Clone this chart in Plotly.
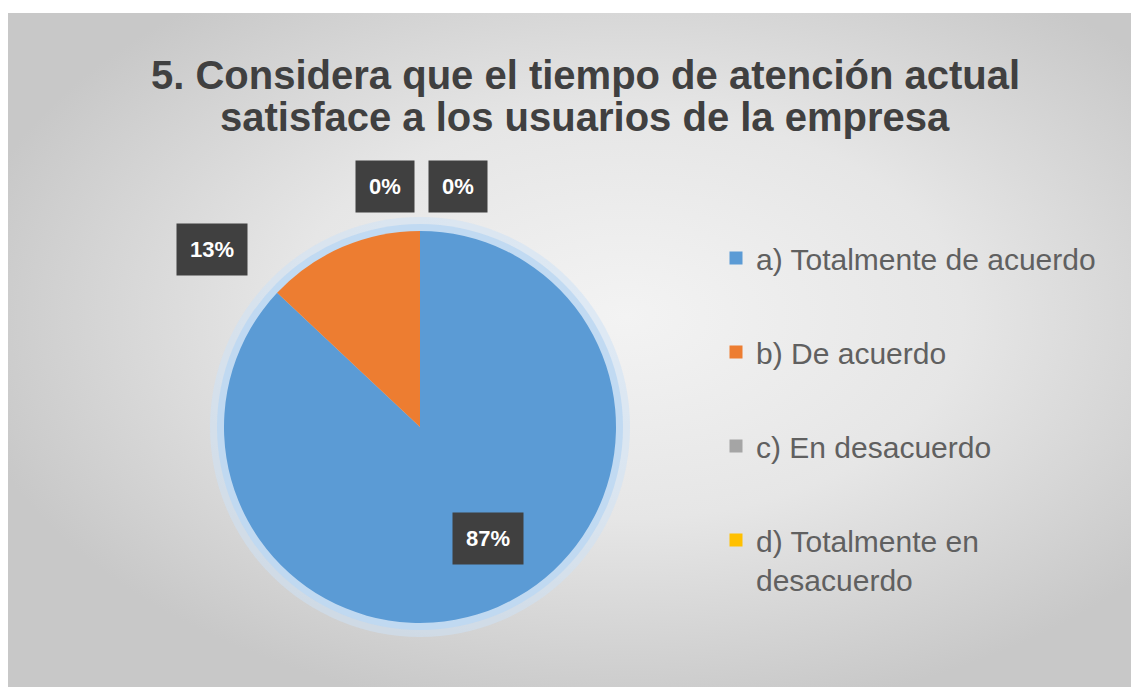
import base64
import math
import plotly.graph_objects as go

# Survey answers and their shares (percent)
categories = [
    "a) Totalmente de acuerdo",
    "b) De acuerdo",
    "c) En desacuerdo",
    "d) Totalmente en<br>desacuerdo",
]
shares = [87, 13, 0, 0]
colors = ["#5B9BD5", "#ED7D31", "#A5A5A5", "#FFC000"]

title_lines = ["5. Considera que el tiempo de atención actual",
               "satisface a los usuarios de la empresa"]

W, H = 1131, 687
CX, CY, R = 420, 427, 196  # pie centre and radius in pixels

# label placement: radial distance (fraction of R) and pixel nudges
label_dist = [0.72, 1.2, 1.2, 1.2]
label_dx = [12, -115, -35, 38]
label_dy = [18, -38, 5, 5]

fig = go.Figure()

fig.add_trace(go.Pie(
    labels=categories,
    values=shares,
    sort=False,
    direction="clockwise",
    rotation=0,
    marker=dict(colors=colors, line=dict(width=0)),
    textinfo="none",
    hoverinfo="label+percent",
    showlegend=False,
    domain=dict(x=[(CX - R) / W, (CX + R) / W],
                y=[(H - CY - R) / H, (H - CY + R) / H]),
))

# legend entries, one group per answer so the gap between rows can be set
for name, col in zip(categories, colors):
    fig.add_trace(go.Scatter(
        x=[None], y=[None], mode="markers", name=name,
        legendgroup=name,
        marker=dict(symbol="square", size=13, color=col),
    ))

# data labels from each slice's mid angle
total = sum(shares)
start = 0.0
annotations = []
for i, v in enumerate(shares):
    frac = v / total
    mid = (start + frac / 2) * 2 * math.pi
    start += frac
    px = CX + label_dist[i] * R * math.sin(mid) + label_dx[i]
    py = CY - label_dist[i] * R * math.cos(mid) - label_dy[i]
    annotations.append(dict(
        x=px / W, y=1 - py / H, xref="paper", yref="paper",
        text=f"<b>{v}%</b>", showarrow=False,
        font=dict(size=22, color="white", family="Liberation Sans"),
        bgcolor="#404040", borderpad=13,
        xanchor="center", yanchor="middle",
    ))

# two-line chart title
for k, line in enumerate(title_lines):
    annotations.append(dict(
        x=585 / W, y=1 - (75 + 42 * k) / H, xref="paper", yref="paper",
        text=f"<b>{line}</b>", showarrow=False,
        font=dict(size=40, color="#404040", family="Liberation Sans"),
        xanchor="center", yanchor="middle",
    ))

# soft gradient backdrop
svg = (
    "<svg xmlns='http://www.w3.org/2000/svg' width='1123' height='674' "
    "preserveAspectRatio='none'>"
    "<defs><radialGradient id='g' cx='0.55' cy='0.45' r='0.6'>"
    "<stop offset='0' stop-color='#f3f3f3'/>"
    "<stop offset='0.5' stop-color='#e6e6e6'/>"
    "<stop offset='1' stop-color='#c8c8c8'/>"
    "</radialGradient></defs>"
    "<rect width='1123' height='674' fill='url(#g)'/></svg>"
)
bg_src = "data:image/svg+xml;base64," + base64.b64encode(svg.encode()).decode()

shapes = []
for pad, col in [(14, "rgba(205,225,245,0.55)"), (7, "rgba(190,216,242,0.9)")]:
    shapes.append(dict(
        type="circle", xref="paper", yref="paper", layer="below",
        x0=(CX - R - pad) / W, x1=(CX + R + pad) / W,
        y0=1 - (CY + R + pad) / H, y1=1 - (CY - R - pad) / H,
        fillcolor=col, line=dict(width=0),
    ))

fig.update_layout(
    width=W, height=H, autosize=False,
    margin=dict(l=0, r=0, t=0, b=0),
    paper_bgcolor="white",
    plot_bgcolor="rgba(0,0,0,0)",
    xaxis=dict(visible=False),
    yaxis=dict(visible=False),
    legend=dict(
        x=716 / W, y=1 - 232 / H, xanchor="left", yanchor="top",
        font=dict(size=30, color="#606060", family="Liberation Sans"),
        bgcolor="rgba(0,0,0,0)", tracegroupgap=52,
        traceorder="grouped", valign="top",
    ),
    images=[dict(
        source=bg_src, xref="paper", yref="paper",
        x=8 / W, y=1 - 13 / H, sizex=(W - 8) / W, sizey=(H - 13) / H,
        xanchor="left", yanchor="top", sizing="stretch", layer="below",
    )],
    shapes=shapes,
    annotations=annotations,
)

fig.write_html("out.html")
